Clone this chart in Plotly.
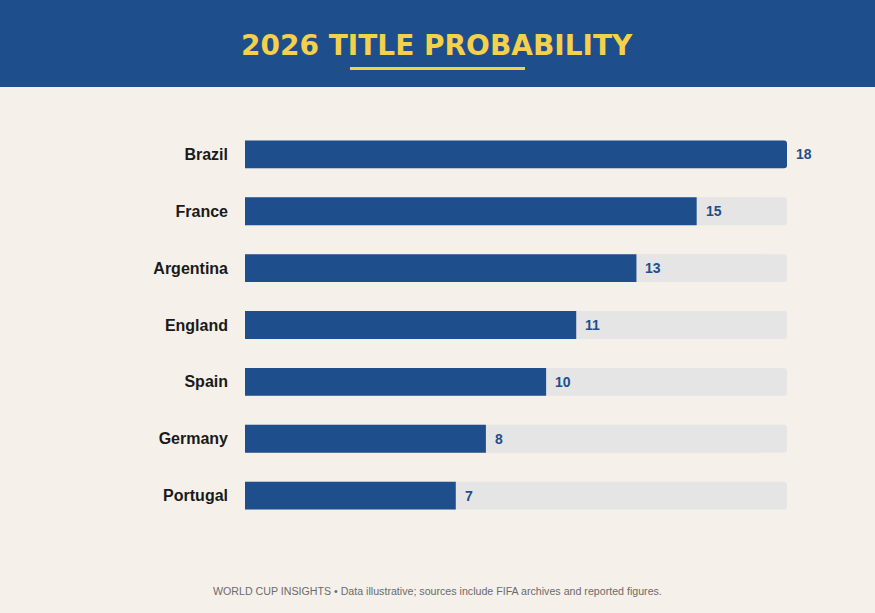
import plotly.graph_objects as go

countries = ["Brazil", "France", "Argentina", "England", "Spain", "Germany", "Portugal"]
probability = [18, 15, 13, 11, 10, 8, 7]
track_max = 18

BLUE = "#1f4e8c"
BG = "#f5f0e9"
TRACK = "#e5e5e5"
YELLOW = "#f5d04a"

W, H = 875, 613
L, R, T, B = 245, 88, 126, 89
pw, ph = W - L - R, H - T - B

def px_x(p):
    return (p - L) / pw

def px_y(p):
    return (H - B - p) / ph

fig = go.Figure()
fig.add_trace(go.Bar(
    y=countries, x=[track_max] * len(countries), orientation="h",
    marker=dict(color=TRACK, line=dict(width=0)), width=0.49,
    hoverinfo="skip", showlegend=False,
))
fig.add_trace(go.Bar(
    y=countries, x=probability, orientation="h",
    marker=dict(color=BLUE, line=dict(width=0)), width=0.49,
    showlegend=False,
))

annotations = []
for c, v in zip(countries, probability):
    annotations.append(dict(
        x=v, y=c, xref="x", yref="y", text=f"<b>{v}</b>", showarrow=False,
        xanchor="left", xshift=7,
        font=dict(family="Liberation Sans, Arial, sans-serif", size=14, color=BLUE),
    ))

annotations.append(dict(
    x=px_x(437), y=px_y(45), xref="paper", yref="paper",
    text="<b>2026 TITLE PROBABILITY</b>", showarrow=False,
    xanchor="center", yanchor="middle",
    font=dict(family="DejaVu Sans, Verdana, sans-serif", size=28, color=YELLOW),
))
annotations.append(dict(
    x=px_x(437.5), y=px_y(591), xref="paper", yref="paper",
    text="WORLD CUP INSIGHTS • Data illustrative; sources include FIFA archives and reported figures.",
    showarrow=False, xanchor="center", yanchor="middle",
    font=dict(family="Liberation Sans, Arial, sans-serif", size=10.65, color="#6b6b6b"),
))

shapes = [
    dict(type="rect", xref="paper", yref="paper",
         x0=px_x(0), x1=px_x(W), y0=px_y(87), y1=px_y(0),
         fillcolor=BLUE, line=dict(width=0), layer="below"),
    dict(type="rect", xref="paper", yref="paper",
         x0=px_x(350), x1=px_x(525), y0=px_y(70), y1=px_y(67),
         fillcolor=YELLOW, line=dict(width=0), layer="above"),
]

fig.update_layout(
    width=W, height=H,
    margin=dict(l=L, r=R, t=T, b=B, pad=0),
    paper_bgcolor=BG, plot_bgcolor=BG,
    barmode="overlay", barcornerradius=3,
    xaxis=dict(range=[0, track_max], visible=False, fixedrange=True),
    yaxis=dict(
        categoryorder="array", categoryarray=countries, autorange="reversed",
        showgrid=False, zeroline=False, showline=False, ticks="",
        ticklabelstandoff=16,
        tickfont=dict(family="Liberation Sans, Arial, sans-serif", size=16, color="#1a1a1a"),
        tickvals=countries, ticktext=[f"<b>{c}</b>" for c in countries],
    ),
    annotations=annotations,
    shapes=shapes,
)

fig.write_html("out.html")
